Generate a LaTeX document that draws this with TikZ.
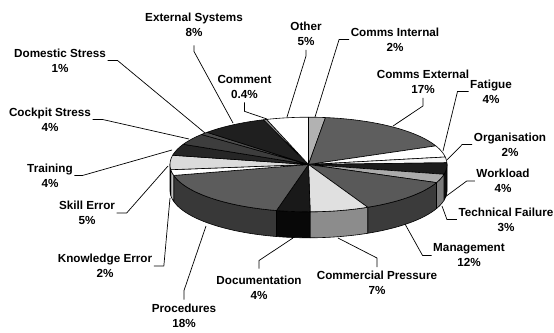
\documentclass[tikz,border=0pt]{standalone}
\usepackage{fontspec}
\setmainfont{Liberation Sans}
\usetikzlibrary{calc}

% pie geometry (x to the right, y downwards, 1 unit = 1pt)
\def\cx{308.5}
\def\cy{164.5}
\def\rx{138.5}
\def\ry{47.3}
\def\dep{26}

% top face of a slice between parametric angles #1 and #2
\newcommand\pietop[3]{%
  \filldraw[slice,fill=#3] (\cx,\cy) -- plot[domain=#1:#2,samples=50]
    ({\cx+\rx*cos(\x)},{\cy-\ry*sin(\x)}) -- cycle;}
% front wall of a slice between parametric angles #1 and #2
\newcommand\pieside[3]{%
  \filldraw[slice,fill=#3] plot[domain=#1:#2,samples=50]
    ({\cx+\rx*cos(\x)},{\cy-\ry*sin(\x)}) --
    plot[domain=#2:#1,samples=50]
    ({\cx+\rx*cos(\x)},{\cy+\dep-\ry*sin(\x)}) -- cycle;}

\tikzset{
  slice/.style={draw=black,line width=0.6pt,line join=round},
  lbl/.style={font=\bfseries\fontsize{11.7}{15}\selectfont,align=center,
    inner xsep=1.5pt,inner ysep=4pt},
  leader/.style={draw=black,line width=0.7pt}
}

\begin{document}
\begin{tikzpicture}[x=1pt,y=-1pt]
\fill[white] (0,0) rectangle (554,332);
\useasboundingbox (0,0) rectangle (554,332);

% front walls
\pieside{0}{-11.95}{black!95}
\pieside{-11.95}{-22.5}{black!52}
\pieside{-22.5}{-64.69}{black!77}
\pieside{-64.69}{-89.3}{black!45}
\pieside{-89.3}{-103.36}{black!97}
\pieside{-103.36}{-166.64}{black!78}
\pieside{-166.64}{-173.67}{black!25}
\pieside{-173.67}{-180}{black!45}

% top faces, clockwise from twelve o'clock
\pietop{90}{82.97}{black!30}        % Comms Internal
\pietop{82.97}{23.2}{black!63}      % Comms External
\pietop{23.2}{9.14}{white}          % Fatigue
\pietop{9.14}{2.11}{black!4}        % Organisation
\pietop{2.11}{-11.95}{black!89}     % Workload
\pietop{-11.95}{-22.5}{black!33}    % Technical Failure
\pietop{-22.5}{-64.69}{black!65}    % Management
\pietop{-64.69}{-89.3}{black!12}    % Commercial Pressure
\pietop{-89.3}{-103.36}{black!90}   % Documentation
\pietop{-103.36}{-166.64}{black!64} % Procedures
\pietop{-166.64}{-173.67}{white}    % Knowledge Error
\pietop{-173.67}{-191.25}{black!14} % Skill Error
\pietop{-191.25}{-205.31}{black!85} % Training
\pietop{-205.31}{-219.37}{black!76} % Cockpit Stress
\pietop{-219.37}{-222.89}{black!70} % Domestic Stress
\pietop{-222.89}{-251.01}{black!88} % External Systems
\pietop{-251.01}{-252.42}{black!45} % Comment
\pietop{-252.42}{-270}{white}       % Other

% points on the pie that the leaders reach
\coordinate (eOt)   at (287,117);
\coordinate (eCI)   at (315,117);
\coordinate (eCE)   at (393,126);
\coordinate (eFa)   at (443,151);
\coordinate (eOrg)  at (447,160);
\coordinate (eWL)   at (445,197);
\coordinate (eTF)   at (442,206);
\coordinate (eMg)   at (405,224);
\coordinate (eCP)   at (338,238);
\coordinate (eDoc)  at (293,238);
\coordinate (eProc) at (206,226);
\coordinate (eKE)   at (170,198);
\coordinate (eSE)   at (168,166);
\coordinate (eTr)   at (172,150);
\coordinate (eCS)   at (189,139);
\coordinate (eDS)   at (205,133);
\coordinate (eES)   at (233,123);
\coordinate (eCm)   at (267,119);

% labels
\node[lbl] (ot)   at (306,34)    {Other\\5\%};
\node[lbl] (ci)   at (395,39.5)  {Comms Internal\\2\%};
\node[lbl] (ce)   at (423,82)    {Comms External\\17\%};
\node[lbl] (fa)   at (491,91.5)  {Fatigue\\4\%};
\node[lbl] (org)  at (510,144.5) {Organisation\\2\%};
\node[lbl] (wl)   at (503,181)   {Workload\\4\%};
\node[lbl] (tf)   at (506,219.5) {Technical Failure\\3\%};
\node[lbl] (mg)   at (469,255.5) {Management\\12\%};
\node[lbl] (cp)   at (377,283)   {Commercial Pressure\\7\%};
\node[lbl] (doc)  at (259,287.5) {Documentation\\4\%};
\node[lbl] (proc) at (184,315.5) {Procedures\\18\%};
\node[lbl] (ke)   at (105,266)   {Knowledge Error\\2\%};
\node[lbl] (se)   at (87,213)    {Skill Error\\5\%};
\node[lbl] (tr)   at (50,175.5)  {Training\\4\%};
\node[lbl] (cs)   at (50,119.5)  {Cockpit Stress\\4\%};
\node[lbl] (ds)   at (60,60.5)   {Domestic Stress\\1\%};
\node[lbl] (es)   at (194,24.5)  {External Systems\\8\%};
\node[lbl] (cm)   at (244.5,86.5){Comment\\0.4\%};

% leader lines
\draw[leader] (ot.south) -- ++(0,6) -- (eOt);
\draw[leader] (ci.west) -- ++(-10,0) -- (eCI);
\draw[leader] (ce.south) -- ++(0,8) -- (eCE);
\draw[leader] (fa.west) -- ++(-11,0) -- (eFa);
\draw[leader] (org.west) -- ++(-10,0) -- (eOrg);
\draw[leader] (wl.west) -- ++(-8,0) -- (eWL);
\draw[leader] (tf.west) -- ++(-10,0) -- (eTF);
\draw[leader] (mg.west) -- ++(-9,0) -- (eMg);
\draw[leader] (cp.north) -- ++(0,-9) -- (eCP);
\draw[leader] (doc.north) ++(0,-3) -- ++(0,-8) -- (eDoc);
\draw[leader] (proc.north) -- ++(0,-9) -- (eProc);
\draw[leader] (ke.east) -- ++(10,0) -- (eKE);
\draw[leader] (se.east) -- ++(10,0) -- (eSE);
\draw[leader] (tr.east) -- ++(8,0) -- (eTr);
\draw[leader] (cs.east) -- ++(10,0) -- (eCS);
\draw[leader] (ds.east) -- ++(10,0) -- (eDS);
\draw[leader] (es.south) ++(0,5) -- ++(0,6) -- (eES);
\draw[leader] (cm.south) -- ++(0,9) -- (eCm);
\end{tikzpicture}
\end{document}
